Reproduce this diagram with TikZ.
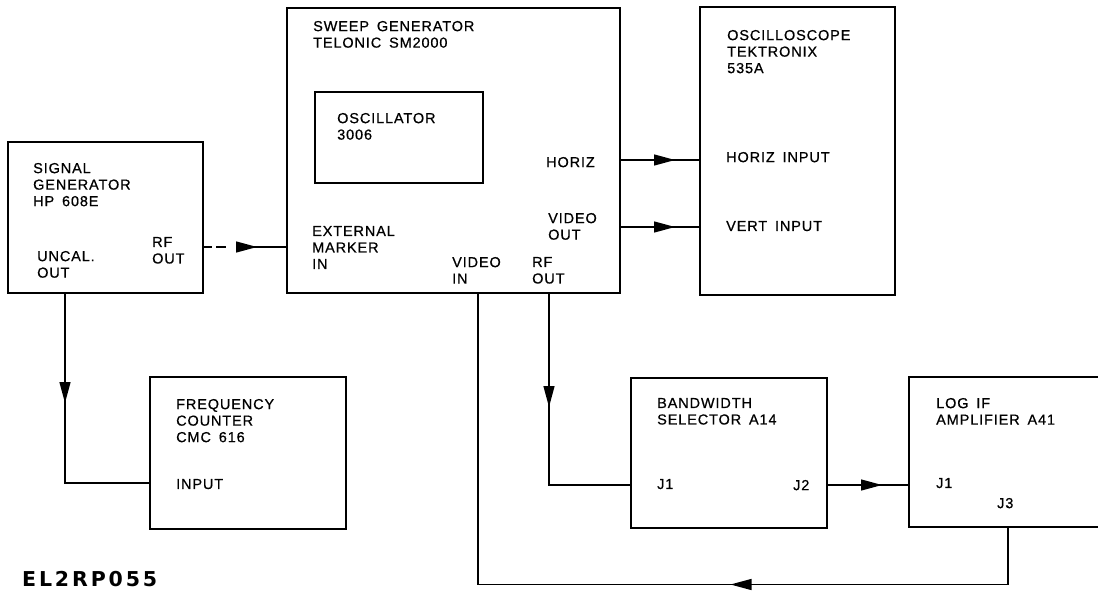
\documentclass[tikz,border=0pt]{standalone}
\usepackage{fontspec}
\setmainfont{Liberation Sans}[LetterSpace=6,WordSpace=1.6,FakeBold=0.6]
\newfontfamily\figfont{DejaVu Sans}[LetterSpace=14]
\usetikzlibrary{arrows.meta,decorations.markings,calc}
\begin{document}
\begin{tikzpicture}[x=1pt,y=-1pt,
  box/.style={draw, line width=2.6pt, inner sep=0pt, outer sep=0pt, anchor=north west},
  innerbox/.style={draw, line width=1.5pt, inner sep=0pt, outer sep=0pt, anchor=north west},
  lbl/.style={anchor=north west, inner sep=0pt, align=left, font=\fontsize{14.5}{16.5}\selectfont},
  wire/.style={line width=1.3pt},
  tipat/.style={postaction={decorate}, decoration={markings,
     mark=at position #1 with {\arrow{Triangle[length=21pt,width=11pt]}}}}
]
\useasboundingbox (0,0) rectangle (1098,592);

% boxes
\node[box, minimum width=195pt, minimum height=151pt] (sg) at (8,142) {};
\node[box, minimum width=333pt, minimum height=285pt] (sw) at (287,8) {};
\node[innerbox, minimum width=168pt, minimum height=91pt] (osc) at (315,92) {};
\node[box, minimum width=195pt, minimum height=288pt] (sc) at (700,7) {};
\node[box, minimum width=196pt, minimum height=152pt] (fc) at (150,377) {};
\node[box, minimum width=196pt, minimum height=150pt] (bw) at (631,378) {};
\node[box, minimum width=200pt, minimum height=150pt] (lif) at (909,377) {};

% labels
\node[lbl] (tsg) at (33,162.8) {SIGNAL\\GENERATOR\\HP 608E};
\node[lbl] (tunc) at (37,250.8) {UNCAL.\\OUT};
\node[lbl] (trf1) at (152,236.8) {RF\\OUT};
\node[lbl] (tsw) at (313,20.8) {SWEEP GENERATOR\\TELONIC SM2000};
\node[lbl] (tosc) at (337,112.8) {OSCILLATOR\\3006};
\node[lbl] (thz) at (546,156.8) {HORIZ};
\node[lbl] (tvo) at (548,212.8) {VIDEO\\OUT};
\node[lbl] (tem) at (312,225.8) {EXTERNAL\\MARKER\\IN};
\node[lbl] (tvi) at (452,256.8) {VIDEO\\IN};
\node[lbl] (trf2) at (532,256.8) {RF\\OUT};
\node[lbl] (tsc) at (727,29.8) {OSCILLOSCOPE\\TEKTRONIX\\535A};
\node[lbl] (thi) at (726,151.8) {HORIZ INPUT};
\node[lbl] (tvti) at (726,220.8) {VERT INPUT};
\node[lbl] (tfc) at (176,398.8) {FREQUENCY\\COUNTER\\CMC 616};
\node[lbl] (tin) at (176,478.8) {INPUT};
\node[lbl] (tbw) at (657,397.8) {BANDWIDTH\\SELECTOR A14};
\node[lbl] (tj1a) at (657,478.8) {J1};
\node[lbl] (tj2) at (793,479.8) {J2};
\node[lbl] (tlif) at (936,397.8) {LOG IF\\AMPLIFIER A41};
\node[lbl] (tj1b) at (936,477.8) {J1};
\node[lbl] (tj3) at (997,497.8) {J3};
\node[anchor=north west, inner sep=0pt, font=\figfont\bfseries\fontsize{20.5}{21}\selectfont] (fig) at (22,571.5) {EL2RP055};

% ports
\coordinate (rfo) at ([yshift=-29.5pt]sg.east);
\coordinate (hz) at ([yshift=-9.5pt]sw.east);
\coordinate (vo) at ([yshift=-76.5pt]sw.east);
\coordinate (uo) at ([xshift=-40.5pt]sg.south);
\coordinate (fcin) at ([yshift=-30pt]fc.west);
\coordinate (swrf) at ([xshift=95.5pt]sw.south);
\coordinate (vin) at ([xshift=24.5pt]sw.south);
\coordinate (bwj1) at ([yshift=-32pt]bw.west);
\coordinate (bwj2) at ([yshift=-32pt]bw.east);
\coordinate (j3) at ([xshift=-1pt]lif.south);
\coordinate (bot) at (0,584.5);

% connectors
\draw[wire, dash pattern=on 9pt off 4pt on 10pt off 10pt on 300pt, tipat=54pt] (rfo) -- (rfo -| sw.west);
\draw[wire, tipat=55pt] (hz) -- (hz -| sc.west);
\draw[wire, tipat=55pt] (vo) -- (vo -| sc.west);
\draw[wire, tipat=110pt] (uo) |- (fcin);
\draw[wire, tipat=114pt] (swrf) |- (bwj1);
\draw[wire, tipat=55pt] (bwj2) -- (bwj2 -| lif.west);
\draw[wire, tipat=335pt] (j3) -- (j3 |- bot) -| (vin);
\end{tikzpicture}
\end{document}
